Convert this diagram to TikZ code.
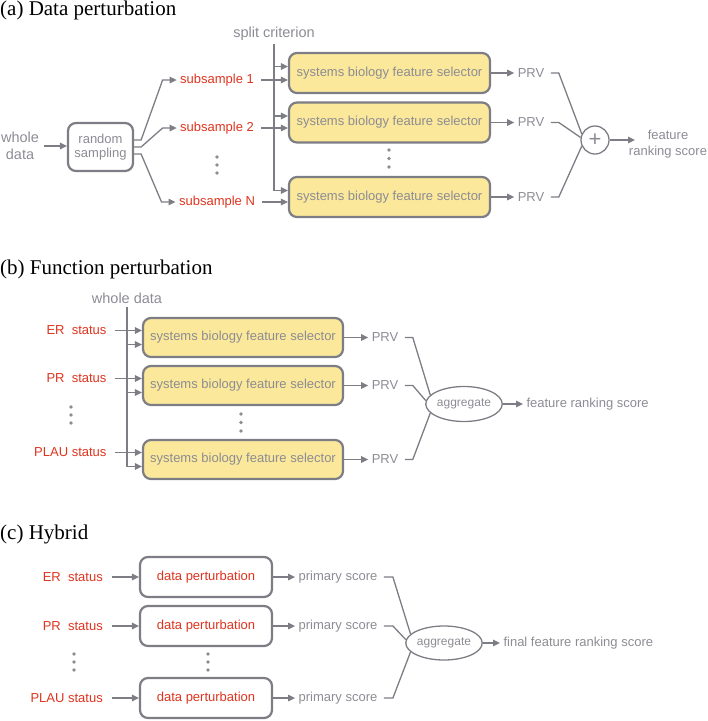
\documentclass[tikz,border=0pt]{standalone}
\usepackage{fontspec}
\setmainfont{Liberation Sans}
\newfontfamily\titlefont{Liberation Serif}
\usetikzlibrary{arrows.meta}
\usetikzlibrary{shapes.geometric}
\definecolor{linegray}{RGB}{125,125,133}
\definecolor{textgray}{RGB}{140,140,148}
\definecolor{subred}{RGB}{222,52,30}
\definecolor{boxyellow}{RGB}{251,232,154}
\tikzstyle{every link} = [linegray, line width=1.3pt]
\tikzstyle{link} = [-{Triangle[length=7pt,width=6.5pt]}, draw, every link]
\tikzstyle{plain link} = [draw, every link]

\begin{document}
\begin{tikzpicture}[
		x=1pt, y=-1pt,
		every node/.style = {font=\fontsize{13}{15}\selectfont, text=textgray},
		title/.style = {font=\titlefont\fontsize{21}{24}\selectfont, text=black, anchor=base west, inner sep=0pt},
		big/.style = {font=\fontsize{14.5}{17}\selectfont, align=center},
		red label/.style = {text=subred},
		selector/.style = {draw=linegray, line width=2.2pt, rounded corners=8pt, fill=boxyellow,
			minimum width=201pt, minimum height=40pt},
		sampler/.style = {draw=linegray, line width=2.2pt, rounded corners=8pt, fill=white,
			minimum width=65pt, minimum height=48pt, align=center, font=\fontsize{13}{14}\selectfont},
		perturber/.style = {draw=linegray, line width=2.2pt, rounded corners=8pt, fill=white,
			minimum width=132pt, minimum height=40pt, text=subred},
		aggregator/.style = {ellipse, draw=linegray, line width=1.3pt, inner sep=0pt,
			minimum width=64pt, minimum height=35pt, font=\fontsize{12}{14}\selectfont}
	]
	\useasboundingbox (0,0) rectangle (708,721);

	% (a)
	\node[title] (titleA) at (0,15) {(a) Data perturbation};
	\node[big] (wholeA) at (20,146) {whole\\data};
	\node[sampler] (sampling) at (100.5,147) {random\\sampling};
	\node[red label] (sub1) at (217,80) {subsample 1};
	\node[red label] (sub2) at (217,128) {subsample 2};
	\node[red label] (subN) at (217,202) {subsample N};
	\node[big] (split) at (274,34) {split criterion};
	\node[selector] (fsA1) at (389.5,73) {systems biology feature selector};
	\node[selector] (fsA2) at (389.5,122.5) {systems biology feature selector};
	\node[selector] (fsA3) at (389.5,197) {systems biology feature selector};
	\node (prvA1) at (531,73) {PRV};
	\node (prvA2) at (531,122.5) {PRV};
	\node (prvA3) at (531,197) {PRV};
	\node[circle, draw=linegray, line width=1.3pt, minimum size=28pt, inner sep=0pt] (plus) at (595,140) {\fontsize{22}{22}\selectfont +};
	\node[align=center, font=\fontsize{13}{16}\selectfont] (scoreA) at (668,144) {feature\\ranking score};
	\coordinate (scoreAin) at (635,140);

	\draw[link, shorten <=2pt] (wholeA) -- (wholeA -| sampling.west);
	\draw[link] ([yshift=7pt]sampling.east) -- ++(7,0) -- ([xshift=-14pt]sub1.west) -- (sub1.west);
	\draw[link] (sampling.east) -- ++(7,0) -- ([xshift=-14pt]sub2.west) -- (sub2.west);
	\draw[link] ([yshift=-7pt]sampling.east) -- ++(7,0) -- ([xshift=-14pt]subN.west) -- (subN.west);
	\draw[link] (split.south) |- ([yshift=6.5pt]fsA3.west);
	\foreach \b in {fsA1,fsA2}
		\draw[link] ([yshift=6.5pt]\b.west -| split.south) -- ([yshift=6.5pt]\b.west);
	\draw[link, shorten <=4pt] (sub1) -- (sub1 -| fsA1.west);
	\draw[link, shorten <=4pt] (sub2) -- (sub2 -| fsA2.west);
	\draw[link, shorten <=4pt] (subN) -- (subN -| fsA3.west);
	\draw[link] (fsA1) -- (prvA1);
	\draw[link] (fsA2) -- (prvA2);
	\draw[link] (fsA3) -- (prvA3);
	\draw[plain link] ([xshift=3pt]prvA1.east) -- ++(8,0) -- (plus.155);
	\draw[plain link] ([xshift=3pt]prvA2.east) -- ++(8,0) -- (plus.170);
	\draw[plain link] ([xshift=3pt]prvA3.east) -- ++(8,0) -- (plus.205);
	\draw[link] (plus) -- (scoreAin);
	\foreach \y in {157,165,173} \fill[textgray] (217,\y) circle (1.8);
	\foreach \y in {150,158.5,167} \fill[textgray] (389,\y) circle (1.8);

	% (b)
	\node[title] (titleB) at (0,274) {(b) Function perturbation};
	\node[big] (wholeB) at (127,298) {whole data};
	\node[selector, minimum width=200pt, minimum height=39pt] (fsB1) at (243,337.5) {systems biology feature selector};
	\node[selector, minimum width=200pt, minimum height=39pt] (fsB2) at (243,385.5) {systems biology feature selector};
	\node[selector, minimum width=200pt, minimum height=39pt] (fsB3) at (243,459.5) {systems biology feature selector};
	\node[red label, anchor=east] (erB) at (110,330.5) {ER~ status};
	\node[red label, anchor=east] (prB) at (110,378.5) {PR~ status};
	\node[red label, anchor=east] (plauB) at (110,452.5) {PLAU status};
	\node (prvB1) at (385,337.5) {PRV};
	\node (prvB2) at (385,385.5) {PRV};
	\node (prvB3) at (385,459.5) {PRV};
	\node[aggregator] (aggB) at (464,404) {aggregate};
	\node[anchor=west] (scoreB) at (523,404) {feature ranking score};

	\draw[link] (wholeB.south) |- ([yshift=-7pt]fsB3.west);
	\foreach \b in {fsB1,fsB2}
		\draw[link] ([yshift=-7pt]\b.west -| wholeB.south) -- ([yshift=-7pt]\b.west);
	\draw[link, shorten <=5pt] (erB) -- (erB -| fsB1.west);
	\draw[link, shorten <=5pt] (prB) -- (prB -| fsB2.west);
	\draw[link, shorten <=5pt] (plauB) -- (plauB -| fsB3.west);
	\draw[link] (fsB1) -- (prvB1);
	\draw[link] (fsB2) -- (prvB2);
	\draw[link] (fsB3) -- (prvB3);
	\draw[plain link] ([xshift=3pt]prvB1.east) -- ++(8,0) -- (aggB.165);
	\draw[plain link] ([xshift=3pt]prvB2.east) -- ++(8,0) -- (aggB.175);
	\draw[plain link] ([xshift=3pt]prvB3.east) -- ++(8,0) -- (aggB.195);
	\draw[link] (aggB) -- (scoreB);
	\foreach \y in {407,415,423} \fill[textgray] (71,\y) circle (1.8);
	\foreach \y in {414,422.5,431} \fill[textgray] (241,\y) circle (1.8);

	% (c)
	\node[title] (titleC) at (0,539) {(c) Hybrid};
	\node[perturber] (dpC1) at (206,577) {data perturbation};
	\node[perturber] (dpC2) at (206,626) {data perturbation};
	\node[perturber] (dpC3) at (206,698) {data perturbation};
	\node[red label, anchor=east] (erC) at (106.3,577) {ER~ status};
	\node[red label, anchor=east] (prC) at (106.3,626) {PR~ status};
	\node[red label, anchor=east] (plauC) at (106.3,698) {PLAU status};
	\node (psC1) at (338,577) {primary score};
	\node (psC2) at (338,626) {primary score};
	\node (psC3) at (338,698) {primary score};
	\node[aggregator, minimum height=34pt] (aggC) at (444,643) {aggregate};
	\node[anchor=west] (finalC) at (500,643) {final feature ranking score};

	\draw[link, shorten <=6pt] (erC) -- (dpC1);
	\draw[link, shorten <=6pt] (prC) -- (dpC2);
	\draw[link, shorten <=6pt] (plauC) -- (dpC3);
	\draw[link] (dpC1) -- (psC1);
	\draw[link] (dpC2) -- (psC2);
	\draw[link] (dpC3) -- (psC3);
	\draw[plain link] ([xshift=3pt]psC1.east) -- ++(9,0) -- (aggC.165);
	\draw[plain link] ([xshift=3pt]psC2.east) -- ++(9,0) -- (aggC.175);
	\draw[plain link] ([xshift=3pt]psC3.east) -- ++(9,0) -- (aggC.195);
	\draw[link] (aggC) -- (finalC);
	\foreach \y in {654,662,670} \fill[textgray] (74,\y) circle (1.8);
	\foreach \y in {654,662,670} \fill[textgray] (208,\y) circle (1.8);
\end{tikzpicture}
\end{document}
